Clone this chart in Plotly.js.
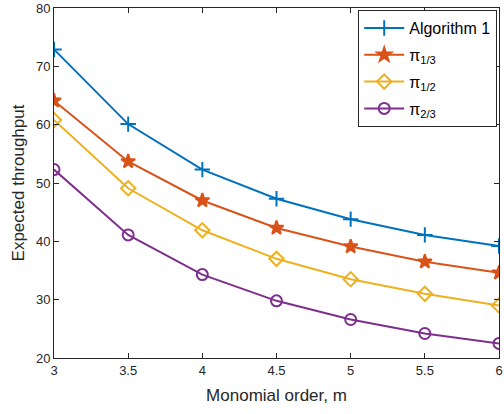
<!DOCTYPE html>
<html><head><meta charset="utf-8">
<script src="https://cdn.plot.ly/plotly-3.0.1.min.js"></script>
<style>html,body{margin:0;padding:0;background:#fff}#c{width:504px;height:414px}</style>
</head><body><div id="c"></div>
<script>
const m = [3, 3.5, 4, 4.5, 5, 5.5, 6];
const algorithm1 = [72.9, 60.1, 52.3, 47.3, 43.8, 41.1, 39.2];
const pi13 = [64.1, 53.7, 47.0, 42.3, 39.1, 36.5, 34.6];
const pi12 = [60.8, 49.1, 41.9, 37.0, 33.5, 31.0, 29.0];
const pi23 = [52.3, 41.1, 34.3, 29.8, 26.6, 24.2, 22.5];
const names = ['Algorithm 1', 'π<sub>1/3</sub>', 'π<sub>1/2</sub>', 'π<sub>2/3</sub>'];
const series = [algorithm1, pi13, pi12, pi23];
const colors = ['#0072BD', '#D95319', '#EDB120', '#7E2F8E'];
const symbols = ['cross-thin-open', 'star', 'diamond-open', 'circle-open'];
const sizes = [11, 10.5, 11, 11];
const FONT = "'Liberation Sans', Arial, Helvetica, sans-serif";

const traces = series.map((y, i) => ({
  x: m, y: y, name: names[i], type: 'scatter', mode: 'lines+markers',
  legendgroup: 'g' + i,
  line: {color: colors[i], width: 2},
  marker: {symbol: symbols[i], size: sizes[i], color: colors[i], line: {color: colors[i], width: 2}}
}));

const axisBase = {
  showline: true, mirror: 'ticks', linecolor: '#262626', linewidth: 1,
  ticks: 'inside', ticklen: 5, tickcolor: '#262626', showgrid: false, zeroline: false,
  tickfont: {family: FONT, size: 13, color: '#262626'}
};

const layout = {
  width: 504, height: 414,
  margin: {l: 54, r: 5, t: 8, b: 56},
  paper_bgcolor: '#fff', plot_bgcolor: '#fff',
  showlegend: true,
  legend: {x: 0.996, y: 0.994, xanchor: 'right', yanchor: 'top',
    bgcolor: '#fff', bordercolor: '#262626', borderwidth: 1,
    font: {family: FONT, size: 16, color: '#000'},
    traceorder: 'grouped', tracegroupgap: 3, itemwidth: 40},
  xaxis: Object.assign({}, axisBase, {range: [3, 6], tickvals: [3, 3.5, 4, 4.5, 5, 5.5, 6], ticktext: ['3','3.5','4','4.5','5','5.5','6'],
    title: {text: 'Monomial order, m', font: {family: FONT, size: 17, color: '#262626'}, standoff: 12}}),
  yaxis: Object.assign({}, axisBase, {range: [20, 80], tickvals: [20, 30, 40, 50, 60, 70, 80],
    title: {text: 'Expected throughput', font: {family: FONT, size: 17, color: '#262626'}, standoff: 6}})
};

Plotly.newPlot('c', traces, layout, {displayModeBar: false, staticPlot: true});
</script></body></html>
